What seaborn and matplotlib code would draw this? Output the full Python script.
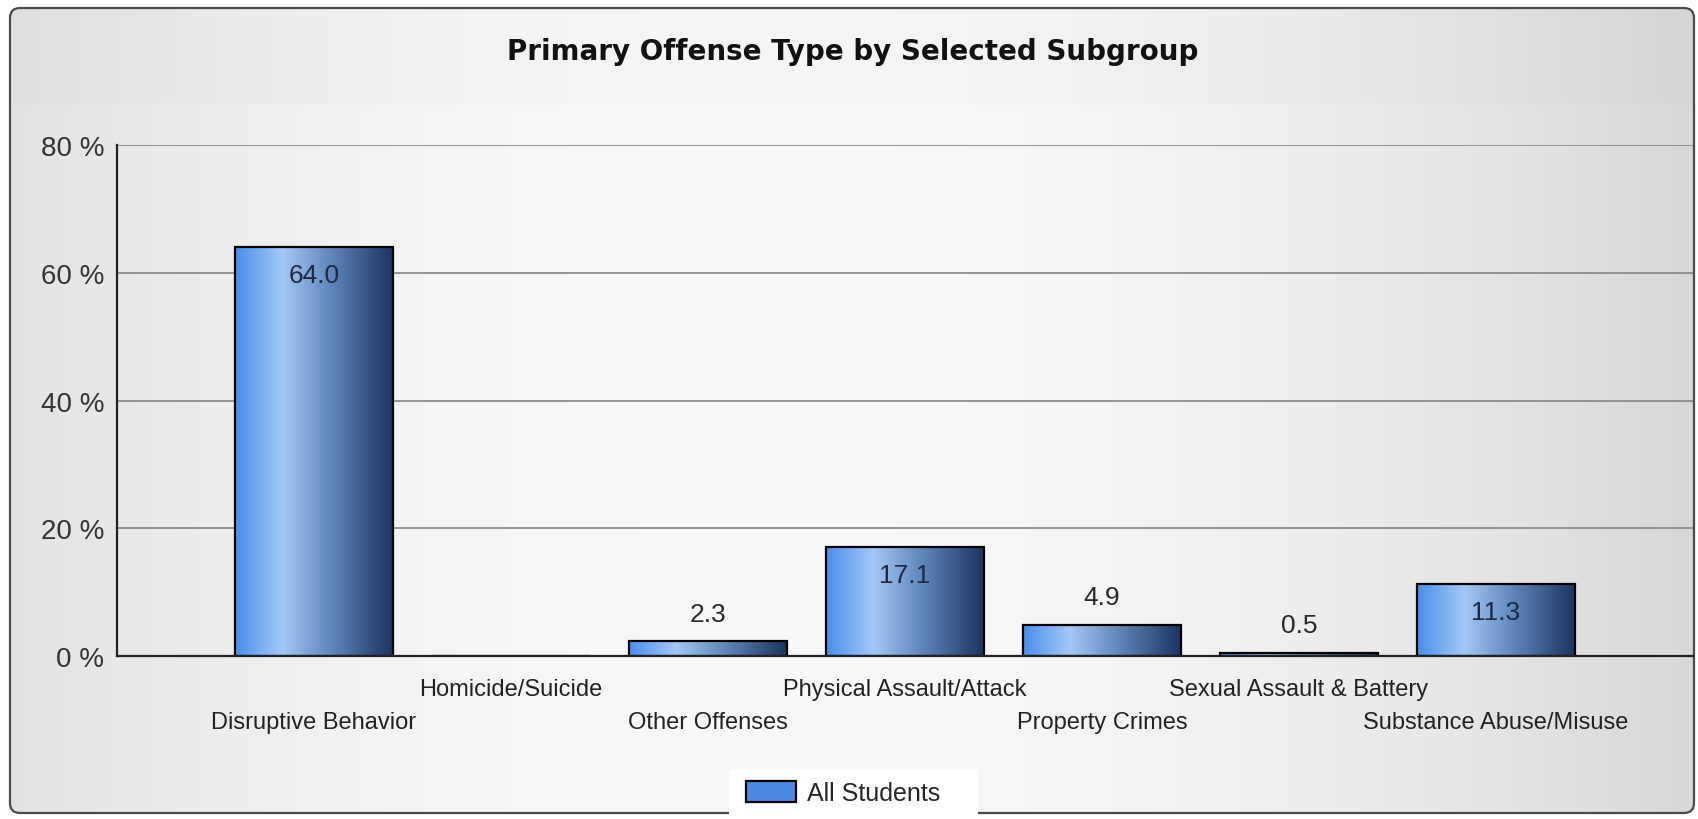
import numpy as np
import pandas as pd
import matplotlib
matplotlib.use("Agg")
import matplotlib.pyplot as plt
import seaborn as sns
from matplotlib.colors import LinearSegmentedColormap
from matplotlib.patches import FancyBboxPatch, Patch, Rectangle

# ---- data ----
categories = ["Disruptive Behavior", "Homicide/Suicide", "Other Offenses",
              "Physical Assault/Attack", "Property Crimes",
              "Sexual Assault & Battery", "Substance Abuse/Misuse"]
values = [64.0, 0.0, 2.3, 17.1, 4.9, 0.5, 11.3]
series_name = "All Students"
y_ticks = [0, 20, 40, 60, 80]
y_tick_labels = ["0 %", "20 %", "40 %", "60 %", "80 %"]
title = "Primary Offense Type by Selected Subgroup"

W, H = 1698, 820
sns.set_theme(style="white")
plt.rcParams["font.family"] = ["Liberation Sans", "DejaVu Sans"]

fig = plt.figure(figsize=(W / 100, H / 100), dpi=100)
fig.patch.set_facecolor("white")

# ---- background panel with gradient ----
bg = fig.add_axes([0, 0, 1, 1], zorder=-5)
bg.set_xlim(0, W)
bg.set_ylim(H, 0)
bg.axis("off")
xs = np.linspace(0, 1, 400)
prof = 0.975 - 0.13 * ((xs - 0.45) / 0.55) ** 2
ys = np.linspace(0, 1, 200)
img = np.tile(prof, (200, 1))
band = (ys * H < 97)
img[band, :] -= 0.012
rgb = np.dstack([img, img, img])
frame = FancyBboxPatch((10, 9), W - 14, H - 15, boxstyle="round,pad=0,rounding_size=10",
                       facecolor="none", edgecolor="#4a4a4a", linewidth=1.6,
                       transform=bg.transData)
bg.add_patch(frame)
im = bg.imshow(rgb, extent=(10, W - 4, H - 6, 9), aspect="auto", interpolation="bilinear")
im.set_clip_path(frame)

# ---- main axes ----
ax = fig.add_axes([117 / W, 1 - 657 / H, (1693 - 117) / W, (657 - 146) / H])
ax.set_facecolor("none")
df = pd.DataFrame({"category": categories, "value": values})
sns.barplot(data=df, x="category", y="value", color="#4a8ae6", width=0.8,
            edgecolor="black", linewidth=1.6, ax=ax, zorder=3)

cmap = LinearSegmentedColormap.from_list(
    "bar", [(0, "#4a8fee"), (0.3, "#a3c8f5"), (0.62, "#5d84b8"), (1, "#1b3560")])
grad = np.linspace(0, 1, 256).reshape(1, -1)
for p in list(ax.patches):
    x0, y0 = p.get_x(), p.get_y()
    w, h = p.get_width(), p.get_height()
    if h <= 0:
        continue
    gi = ax.imshow(grad, cmap=cmap, extent=(x0, x0 + w, y0, y0 + h),
                   aspect="auto", zorder=2.5, interpolation="bilinear")
    gi.set_clip_path(p)
    p.set_facecolor("none")

ax.set_xlim(-1, len(categories))
ax.set_ylim(0, 80)
ax.set_yticks(y_ticks)
ax.set_yticklabels(y_tick_labels, fontsize=20, color="#333333")
ax.tick_params(axis="y", length=0, pad=9)
ax.set_xticks([])
ax.set_xlabel("")
ax.set_ylabel("")
ax.yaxis.grid(True, color="#8c8c8c", linewidth=1.3, zorder=0)
ax.set_axisbelow(True)
for s in ["top", "right"]:
    ax.spines[s].set_visible(False)
for s in ["left", "bottom"]:
    ax.spines[s].set_color("#222222")
    ax.spines[s].set_linewidth(1.6)
    ax.spines[s].set_zorder(4)

# value labels
for i, v in enumerate(values):
    if v <= 0:
        continue
    if v >= 10:
        ax.annotate(f"{v:.1f}", (i, v), xytext=(0, -20), textcoords="offset points",
                    ha="center", va="center", fontsize=19, color="#1f2a40", zorder=5)
    else:
        ax.annotate(f"{v:.1f}", (i, v), xytext=(0, 20), textcoords="offset points",
                    ha="center", va="center", fontsize=19, color="#2a2a2a", zorder=5)

# staggered category labels
tr = ax.get_xaxis_transform()
for i, c in enumerate(categories):
    yy = -0.129 if i % 2 == 0 else -0.0646
    ax.text(i, yy, c, transform=tr, ha="center", va="center", fontsize=17, color="#222222")

# title
fig.text(853 / W, 1 - 52 / H, title, ha="center", va="center", fontsize=20,
         fontweight="bold", family="DejaVu Sans", color="#111111")

# legend
handle = Patch(facecolor="#4a8ae6", edgecolor="black", linewidth=1.6)
leg = fig.legend([handle], [series_name], loc="center", bbox_to_anchor=(843 / W, 1 - 794 / H),
                 frameon=False, fontsize=18, handlelength=2.0,
                 handleheight=0.9, borderpad=0, handletextpad=0.45, borderaxespad=0)
fig.canvas.draw()
bb = leg.get_window_extent()
bg.add_patch(Rectangle((bb.x0 - 17, H - bb.y1 - 12), bb.width + 55, bb.height + 24,
                       facecolor="white", edgecolor="none", zorder=3))

fig.savefig("out.png", dpi=100)
